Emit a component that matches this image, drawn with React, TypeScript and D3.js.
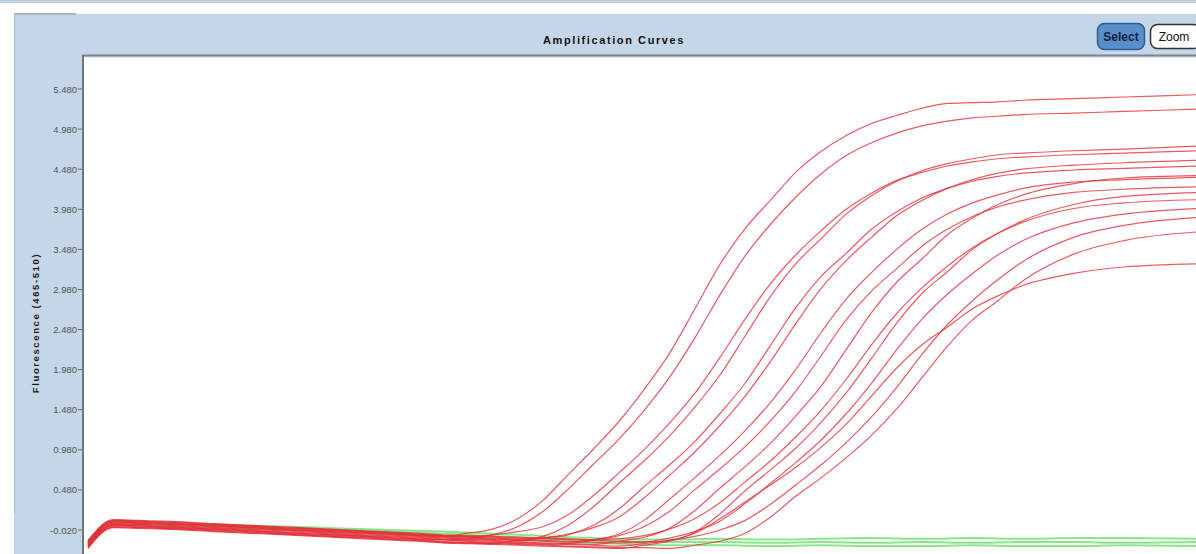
import React, { useEffect } from 'react';
import * as d3 from 'd3';

// ---- data ----
const TITLE = 'Amplification Curves';
const Y_TITLE = 'Fluorescence (465-510)';
const Y_TICKS = [-0.02, 0.48, 0.98, 1.48, 1.98, 2.48, 2.98, 3.48, 3.98, 4.48, 4.98, 5.48];
const Y_TICK_LABELS = ['-0.020', '0.480', '0.980', '1.480', '1.980', '2.480', '2.980', '3.480', '3.980', '4.480', '4.980', '5.480'];

const RED_CYCLES = [1, 2, 3, 4, 6, 8, 10, 12, 14, 15, 16, 17, 18, 19, 20, 21, 22, 23, 24, 25, 26, 27, 28, 29, 30, 31, 32, 33, 34, 35, 36, 37, 38, 40, 42, 45];

const RED_01 = [-0.18, 0.08, 0.07, 0.06, 0.03, 0.00, -0.03, -0.06, -0.09, -0.10, -0.06, -0.01, 0.12, 0.35, 0.67, 0.99, 1.33, 1.73, 2.18, 2.73, 3.29, 3.74, 4.09, 4.44, 4.70, 4.90, 5.05, 5.15, 5.24, 5.30, 5.31, 5.32, 5.34, 5.36, 5.38, 5.41];
const RED_02 = [-0.22, 0.04, 0.03, 0.02, -0.01, -0.04, -0.07, -0.10, -0.13, -0.14, -0.13, -0.08, 0.02, 0.21, 0.49, 0.80, 1.11, 1.47, 1.88, 2.37, 2.91, 3.40, 3.79, 4.13, 4.42, 4.65, 4.81, 4.93, 5.02, 5.08, 5.12, 5.14, 5.16, 5.18, 5.20, 5.23];
const RED_03 = [-0.16, 0.10, 0.09, 0.08, 0.05, 0.02, -0.01, -0.04, -0.07, -0.09, -0.10, -0.08, -0.04, 0.02, 0.17, 0.41, 0.69, 0.98, 1.31, 1.68, 2.13, 2.61, 3.05, 3.41, 3.71, 3.98, 4.18, 4.34, 4.44, 4.52, 4.57, 4.61, 4.63, 4.66, 4.68, 4.71];
const RED_04 = [-0.24, 0.02, 0.01, 0.00, -0.03, -0.06, -0.09, -0.12, -0.15, -0.17, -0.18, -0.19, -0.15, -0.10, 0.04, 0.27, 0.56, 0.84, 1.15, 1.51, 1.91, 2.40, 2.89, 3.30, 3.61, 3.92, 4.15, 4.33, 4.46, 4.55, 4.61, 4.66, 4.68, 4.71, 4.73, 4.77];
const RED_05 = [-0.20, 0.06, 0.05, 0.04, 0.01, -0.02, -0.05, -0.08, -0.11, -0.13, -0.14, -0.15, -0.16, -0.12, -0.08, 0.04, 0.24, 0.52, 0.79, 1.08, 1.43, 1.81, 2.28, 2.75, 3.14, 3.43, 3.73, 3.95, 4.12, 4.24, 4.33, 4.39, 4.43, 4.47, 4.49, 4.52];
const RED_06 = [-0.17, 0.09, 0.08, 0.07, 0.04, 0.01, -0.02, -0.05, -0.08, -0.10, -0.11, -0.12, -0.13, -0.12, -0.07, 0.01, 0.14, 0.38, 0.66, 0.95, 1.28, 1.65, 2.08, 2.55, 2.99, 3.34, 3.63, 3.90, 4.09, 4.24, 4.35, 4.43, 4.48, 4.53, 4.56, 4.59];
const RED_07 = [-0.23, 0.03, 0.02, 0.01, -0.02, -0.05, -0.08, -0.11, -0.14, -0.16, -0.17, -0.18, -0.19, -0.20, -0.19, -0.15, -0.07, 0.10, 0.36, 0.63, 0.91, 1.22, 1.57, 1.98, 2.44, 2.86, 3.19, 3.48, 3.73, 3.92, 4.06, 4.16, 4.24, 4.32, 4.35, 4.38];
const RED_08 = [-0.19, 0.07, 0.06, 0.05, 0.02, -0.01, -0.04, -0.07, -0.10, -0.12, -0.13, -0.14, -0.15, -0.16, -0.17, -0.14, -0.09, 0.02, 0.21, 0.48, 0.74, 1.02, 1.34, 1.71, 2.15, 2.60, 2.96, 3.24, 3.52, 3.73, 3.89, 4.01, 4.09, 4.19, 4.23, 4.26];
const RED_09 = [-0.21, 0.05, 0.04, 0.03, 0.00, -0.03, -0.06, -0.09, -0.12, -0.14, -0.15, -0.16, -0.17, -0.18, -0.19, -0.20, -0.16, -0.11, 0.00, 0.22, 0.50, 0.77, 1.06, 1.40, 1.77, 2.23, 2.69, 3.07, 3.36, 3.66, 3.87, 4.04, 4.16, 4.30, 4.37, 4.40];
const RED_10 = [-0.15, 0.11, 0.10, 0.09, 0.06, 0.03, 0.00, -0.03, -0.06, -0.08, -0.09, -0.10, -0.11, -0.12, -0.13, -0.14, -0.13, -0.09, -0.01, 0.12, 0.32, 0.58, 0.84, 1.14, 1.47, 1.86, 2.29, 2.68, 3.00, 3.27, 3.50, 3.68, 3.82, 3.99, 4.06, 4.10];
const RED_11 = [-0.25, 0.01, 0.00, -0.01, -0.04, -0.07, -0.10, -0.13, -0.16, -0.18, -0.19, -0.20, -0.21, -0.22, -0.23, -0.24, -0.25, -0.21, -0.16, -0.05, 0.18, 0.47, 0.73, 1.00, 1.32, 1.69, 2.12, 2.56, 2.93, 3.20, 3.48, 3.68, 3.84, 4.04, 4.14, 4.19];
const RED_12 = [-0.18, 0.08, 0.07, 0.06, 0.03, 0.00, -0.03, -0.06, -0.09, -0.11, -0.12, -0.13, -0.14, -0.15, -0.16, -0.17, -0.18, -0.17, -0.12, -0.04, 0.09, 0.31, 0.56, 0.82, 1.10, 1.43, 1.81, 2.23, 2.61, 2.92, 3.18, 3.41, 3.59, 3.81, 3.92, 3.99];
const RED_13 = [-0.22, 0.04, 0.03, 0.02, -0.01, -0.04, -0.07, -0.10, -0.13, -0.14, -0.16, -0.17, -0.18, -0.19, -0.20, -0.21, -0.22, -0.19, -0.15, -0.06, 0.12, 0.33, 0.54, 0.76, 1.01, 1.30, 1.65, 2.00, 2.29, 2.51, 2.74, 2.90, 3.03, 3.18, 3.26, 3.30];
const RED_14 = [-0.16, 0.10, 0.09, 0.08, 0.05, 0.02, -0.01, -0.04, -0.07, -0.09, -0.10, -0.11, -0.12, -0.13, -0.14, -0.15, -0.16, -0.17, -0.15, -0.10, -0.02, 0.10, 0.30, 0.54, 0.79, 1.07, 1.39, 1.76, 2.17, 2.54, 2.84, 3.10, 3.33, 3.63, 3.78, 3.88];
const RED_15 = [-0.24, 0.02, 0.01, 0.00, -0.03, -0.06, -0.09, -0.12, -0.15, -0.17, -0.18, -0.19, -0.20, -0.21, -0.22, -0.23, -0.24, -0.24, -0.25, -0.21, -0.16, -0.06, 0.14, 0.40, 0.63, 0.88, 1.16, 1.49, 1.88, 2.27, 2.60, 2.84, 3.09, 3.42, 3.59, 3.70];

const GREEN_CYCLES = [1, 2, 3, 4, 6, 8, 10, 12, 14, 16, 18, 20, 22, 24, 26, 28, 30, 32, 34, 36, 38, 40, 42, 45];
const GREEN_01 = [-0.17, 0.09, 0.08, 0.07, 0.05, 0.03, 0.01, -0.01, -0.03, -0.05, -0.08, -0.11, -0.13, -0.14, -0.13, -0.14, -0.13, -0.12, -0.13, -0.12, -0.13, -0.12, -0.12, -0.13];
const GREEN_02 = [-0.19, 0.07, 0.06, 0.05, 0.03, 0.01, -0.01, -0.03, -0.05, -0.08, -0.11, -0.14, -0.16, -0.17, -0.17, -0.18, -0.17, -0.18, -0.17, -0.18, -0.17, -0.17, -0.18, -0.17];
const GREEN_03 = [-0.21, 0.05, 0.04, 0.03, 0.01, -0.01, -0.03, -0.05, -0.08, -0.11, -0.14, -0.17, -0.19, -0.21, -0.21, -0.22, -0.21, -0.22, -0.22, -0.21, -0.22, -0.22, -0.21, -0.22];

const REDS = [RED_01, RED_02, RED_03, RED_04, RED_05, RED_06, RED_07, RED_08, RED_09, RED_10, RED_11, RED_12, RED_13, RED_14, RED_15];
const GREENS = [GREEN_01, GREEN_02, GREEN_03];

const W = 1196;
const H = 554;
const PLOT_L = 84;
const PLOT_T = 57;

export default function App() {
  useEffect(() => {
    document.body.style.margin = '0';
  }, []);

  const x = d3.scaleLinear().domain([1, 45]).range([88, 1200]);
  const y = d3.scaleLinear().domain([-0.02, 5.48]).range([530, 89]);

  const line = d3
    .line<[number, number]>()
    .x((d) => x(d[0]))
    .y((d) => y(d[1]))
    .curve(d3.curveMonotoneX);

  const zip = (cs: number[], vs: number[]) =>
    cs.slice(0, Math.min(cs.length, vs.length)).map((c, i) => [c, vs[i]] as [number, number]);

  const font = "'Liberation Sans', Arial, sans-serif";

  return (
    <svg width={W} height={H} style={{ display: 'block', background: '#fff' }} xmlns="http://www.w3.org/2000/svg">
      <defs>
        <clipPath id="plotClip">
          <rect x={PLOT_L} y={PLOT_T} width={W - PLOT_L} height={H - PLOT_T} />
        </clipPath>
      </defs>
      {/* window strip */}
      <rect x={0} y={0} width={W} height={3} fill="#c4d0dd" />
      {/* panel */}
      <rect x={14} y={14} width={W - 14} height={H - 14} fill="#c5d6e8" />
      <rect x={14} y={13} width={62} height={2} fill="#a9b4c1" />
      <line x1={14.5} y1={14} x2={14.5} y2={514} stroke="#a9b9cb" strokeWidth={1} />
      {/* plot area */}
      <rect x={PLOT_L} y={PLOT_T} width={W - PLOT_L} height={H - PLOT_T} fill="#ffffff" />
      <line x1={82} y1={55.5} x2={W} y2={55.5} stroke="#7d848c" strokeWidth={2} />
      <line x1={83} y1={55} x2={83} y2={H} stroke="#6f767e" strokeWidth={2} />
      <line x1={85} y1={57.5} x2={W} y2={57.5} stroke="#e4e8ec" strokeWidth={1} />

      {/* title */}
      <text x={614} y={44} textAnchor="middle" fontFamily={font} fontWeight="bold" fontSize={11} letterSpacing={1.6} fill="#111">
        {TITLE}
      </text>

      {/* buttons */}
      <rect x={1097.5} y={23.5} width={47} height={26} rx={7} fill="#5a8ecb" stroke="#2b5c97" strokeWidth={1.5} />
      <text x={1121} y={41} textAnchor="middle" fontFamily={font} fontWeight="bold" fontSize={12} fill="#0f2240">
        Select
      </text>
      <rect x={1150.5} y={24.5} width={50} height={24} rx={7} fill="#ffffff" stroke="#333" strokeWidth={1.5} />
      <text x={1174} y={41} textAnchor="middle" fontFamily={font} fontSize={12} fill="#111">
        Zoom
      </text>

      {/* y axis ticks and labels */}
      {Y_TICKS.map((t, i) => (
        <g key={t}>
          <line x1={78} x2={82} y1={y(t)} y2={y(t)} stroke="#666" strokeWidth={1} />
          <text x={77} y={y(t) + 3.5} textAnchor="end" fontFamily={font} fontSize={9.5} fill="#555">
            {Y_TICK_LABELS[i]}
          </text>
        </g>
      ))}
      <text
        transform={`translate(39, 323) rotate(-90)`}
        textAnchor="middle"
        fontFamily={font}
        fontWeight="bold"
        fontSize={9.5}
        letterSpacing={1.6}
        fill="#1a1a1a"
      >
        {Y_TITLE}
      </text>

      {/* curves */}
      <g clipPath="url(#plotClip)">
        {GREENS.map((g, i) => (
          <path key={'g' + i} d={line(zip(GREEN_CYCLES, g)) || ''} fill="none" stroke="#6ee06e" strokeWidth={2} strokeOpacity={0.8} />
        ))}
        {REDS.map((r, i) => (
          <path key={'r' + i} d={line(zip(RED_CYCLES, r)) || ''} fill="none" stroke="#e5303a" strokeWidth={1.2} strokeOpacity={0.8} />
        ))}
      </g>
    </svg>
  );
}
